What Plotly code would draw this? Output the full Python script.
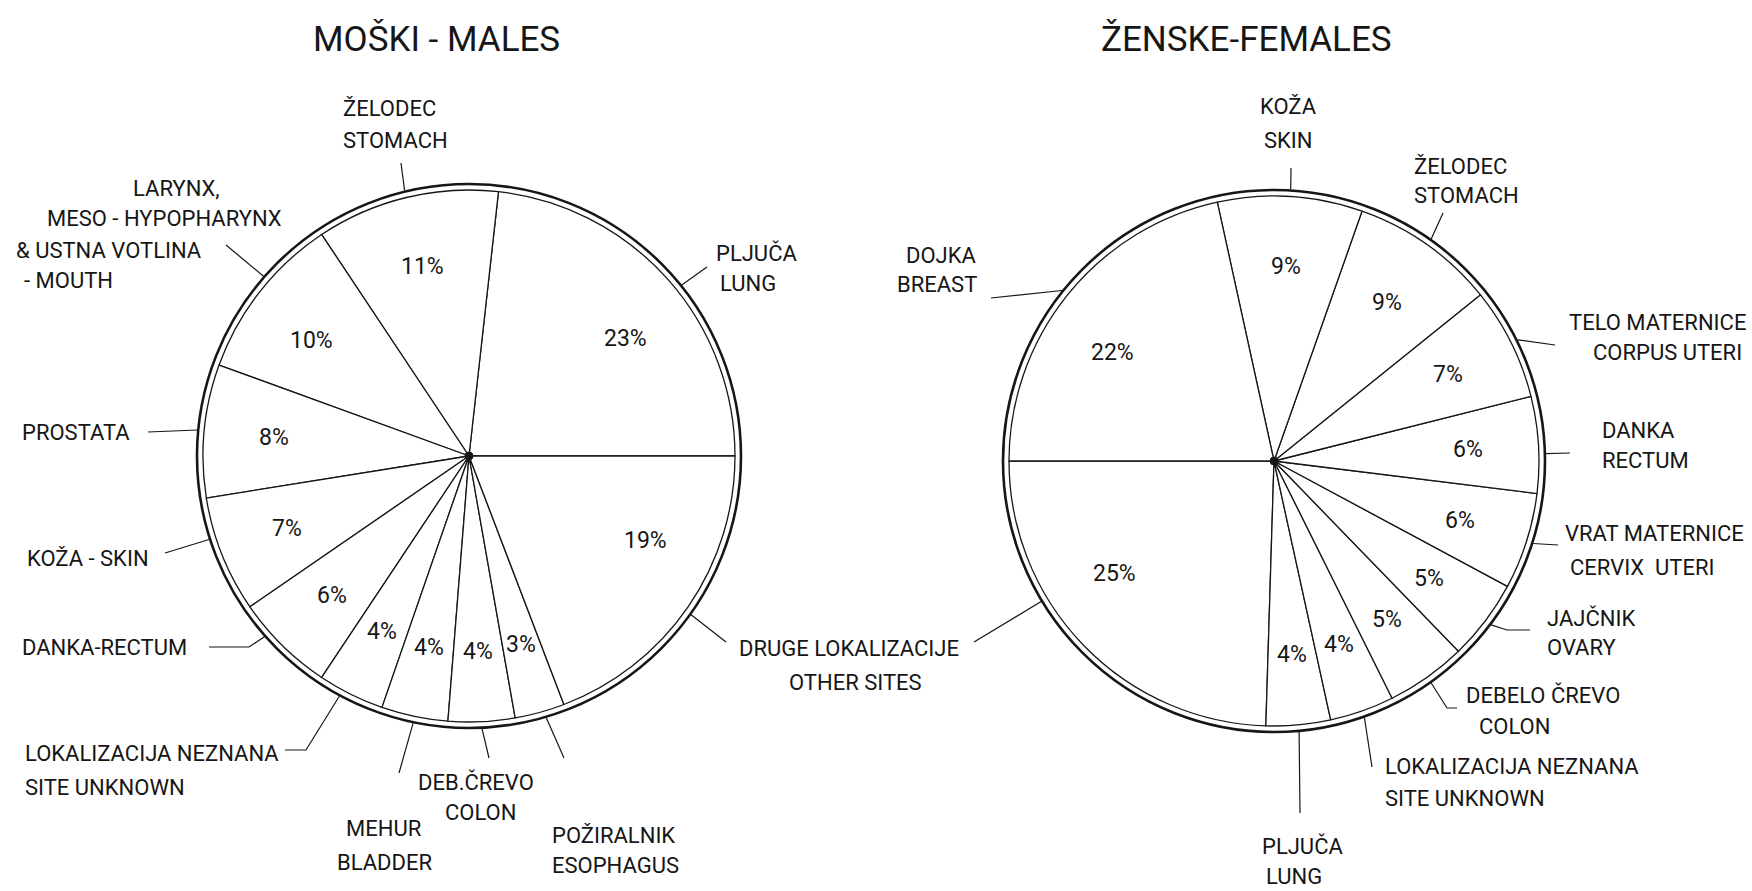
import math
import plotly.graph_objects as go

W, H = 1752, 891
FONT = "Roboto, Liberation Sans, sans-serif"
INK = "#161616"

# ---- data -------------------------------------------------------------
male_sites = ["Pljuča", "Želodec", "Larynx, meso-hypopharynx & ustna votlina",
              "Prostata", "Koža", "Danka", "Lokalizacija neznana", "Mehur",
              "Debelo črevo", "Požiralnik", "Druge lokalizacije"]
male_values = [23, 11, 10, 8, 7, 6, 4, 4, 4, 3, 19]
male_callouts = [["PLJUČA", "LUNG"], ["ŽELODEC", "STOMACH"],
                 ["LARYNX,", "MESO - HYPOPHARYNX", "& USTNA VOTLINA", "- MOUTH"],
                 ["PROSTATA"], ["KOŽA - SKIN"], ["DANKA-RECTUM"],
                 ["LOKALIZACIJA NEZNANA", "SITE UNKNOWN"], ["MEHUR", "BLADDER"],
                 ["DEB.ČREVO", "COLON"], ["POŽIRALNIK", "ESOPHAGUS"],
                 ["DRUGE LOKALIZACIJE", "OTHER SITES"]]

female_sites = ["Druge lokalizacije", "Pljuča", "Lokalizacija neznana", "Debelo črevo",
                "Jajčnik", "Vrat maternice", "Danka", "Telo maternice", "Želodec",
                "Koža", "Dojka"]
female_values = [25, 4, 4, 5, 5, 6, 6, 7, 9, 9, 22]
female_callouts = [[], ["PLJUČA", "LUNG"], ["LOKALIZACIJA NEZNANA", "SITE UNKNOWN"],
                   ["DEBELO ČREVO", "COLON"], ["JAJČNIK", "OVARY"],
                   ["VRAT MATERNICE", "CERVIX  UTERI"], ["DANKA", "RECTUM"],
                   ["TELO MATERNICE", "CORPUS UTERI"], ["ŽELODEC", "STOMACH"],
                   ["KOŽA", "SKIN"], ["DOJKA", "BREAST"]]

# ---- layout (pixel positions of hand-lettered labels) -----------------
# start: angle (deg, counterclockwise from 3 o'clock) where the first slice begins
male_pie = dict(cx=469, cy=456, r=266, start=0, title="MOŠKI - MALES", tx=436)
female_pie = dict(cx=1274, cy=461, r=265, start=180, title="ŽENSKE-FEMALES", tx=1246)

male_text_pos = [
    [(714, 253, "left"), (718, 283, "left")],
    [(341, 108, "left"), (341, 140, "left")],
    [(131, 188, "left"), (45, 218, "left"), (14, 250, "left"), (22, 280, "left")],
    [(20, 432, "left")],
    [(25, 558, "left")],
    [(20, 647, "left")],
    [(23, 753, "left"), (23, 787, "left")],
    [(384, 828, "center"), (384, 862, "center")],
    [(476, 782, "center"), (480, 812, "center")],
    [(550, 835, "left"), (550, 865, "left")],
    [(737, 648, "left"), (855, 682, "center")],
]
male_leaders = [[(707, 267)], [(401, 163)], [(226, 245)], [(148, 432)], [(165, 553)],
                [(249, 647), (209, 647)], [(306, 750), (285, 750)], [(399, 773)],
                [(489, 758)], [(564, 758)], [(726, 642)]]
# small hand-drawn offsets (deg) of leader roots and percent labels from slice middles
male_leader_shift = [-3, 0, -3, 0, -4, -4, -2, 0, 0, 1, -1]
male_pct_shift = [-5, 0, 2, 0, 0, 0, 0, 0, 0, 0, 9]

female_text_pos = [
    [],
    [(1302, 846, "center"), (1294, 876, "center")],
    [(1383, 766, "left"), (1383, 798, "left")],
    [(1464, 695, "left"), (1477, 726, "left")],
    [(1545, 618, "left"), (1545, 647, "left")],
    [(1746, 533, "right"), (1568, 567, "left")],
    [(1600, 430, "left"), (1600, 460, "left")],
    [(1748, 322, "right"), (1744, 352, "right")],
    [(1412, 166, "left"), (1412, 195, "left")],
    [(1288, 106, "center"), (1288, 140, "center")],
    [(979, 255, "right"), (979, 284, "right")],
]
female_leaders = [[(974, 642)], [(1300, 813)], [(1372, 767)], [(1447, 708), (1457, 708)],
                  [(1507, 630), (1530, 630)], [(1558, 545)], [(1570, 453)],
                  [(1555, 345)], [(1443, 213)], [(1291, 168)], [(991, 298)]]
female_leader_shift = [-13, 0, 0, 0, 0, 0, -2, 0, 0, 0, 0]
female_pct_shift = [-9, 0, 0, 0, 0, 0, 0, 0, 0, 0, 5]

fig = go.Figure()
shapes, annotations = [], []


def add_pie(p, values, callouts, text_pos, leaders, leader_shift, pct_shift):
    cx, cy, r = p["cx"], p["cy"], p["r"]
    total = sum(values)
    # plotly puts the first counterclockwise slice clockwise of `rotation`
    rotation = (90 - p["start"]) - values[0] / total * 360
    fig.add_trace(go.Pie(
        values=values, sort=False, direction="counterclockwise",
        rotation=rotation, textinfo="none", hoverinfo="skip",
        showlegend=False,
        marker=dict(colors=["white"] * len(values), line=dict(color=INK, width=1.3)),
        domain=dict(x=[(cx - r) / W, (cx + r) / W], y=[1 - (cy + r) / H, 1 - (cy - r) / H]),
    ))
    # outer ring and centre
    ro = r + 6
    shapes.append(dict(type="circle", xref="x", yref="y", x0=cx - ro, x1=cx + ro,
                       y0=cy - ro, y1=cy + ro, line=dict(color=INK, width=2.6)))
    shapes.append(dict(type="circle", xref="x", yref="y", x0=cx - 4, x1=cx + 4,
                       y0=cy - 4, y1=cy + 4, line=dict(color=INK, width=1), fillcolor=INK))
    cum = 0
    for i, (v, lines, pos, lead) in enumerate(zip(values, callouts, text_pos, leaders)):
        mid = p["start"] + (cum + v / 2) / total * 360
        cum += v
        # percentage inside the slice
        a = math.radians(mid + pct_shift[i])
        annotations.append(dict(x=cx + 0.735 * r * math.cos(a), y=cy - 0.735 * r * math.sin(a),
                                xref="x", yref="y", text=f"{v}%", showarrow=False,
                                font=dict(family=FONT, size=23, color=INK)))
        # leader line from the ring
        a = math.radians(mid + leader_shift[i])
        sx, sy = cx + (ro + 1) * math.cos(a), cy - (ro + 1) * math.sin(a)
        path = f"M {sx:.1f} {sy:.1f} " + " ".join(f"L {x} {y}" for x, y in lead)
        shapes.append(dict(type="path", xref="x", yref="y", path=path,
                           line=dict(color=INK, width=1.2)))
        for text, (x, y, anchor) in zip(lines, pos):
            annotations.append(dict(x=x, y=y, xref="x", yref="y", text=text, showarrow=False,
                                    xanchor=anchor, yanchor="middle",
                                    font=dict(family=FONT, size=22, color=INK)))
    annotations.append(dict(x=p["tx"], y=39, xref="x", yref="y", text=p["title"],
                            showarrow=False, font=dict(family=FONT, size=35, color=INK)))


add_pie(male_pie, male_values, male_callouts, male_text_pos, male_leaders,
        male_leader_shift, male_pct_shift)
add_pie(female_pie, female_values, female_callouts, female_text_pos, female_leaders,
        female_leader_shift, female_pct_shift)

fig.update_layout(
    width=W, height=H, margin=dict(l=0, r=0, t=0, b=0),
    paper_bgcolor="white", plot_bgcolor="rgba(0,0,0,0)",
    xaxis=dict(range=[0, W], visible=False, domain=[0, 1], fixedrange=True),
    yaxis=dict(range=[H, 0], visible=False, domain=[0, 1], fixedrange=True),
    shapes=shapes, annotations=annotations,
)

fig.write_html("out.html", config={"displayModeBar": False},
               post_script="document.body.style.margin='0';")
